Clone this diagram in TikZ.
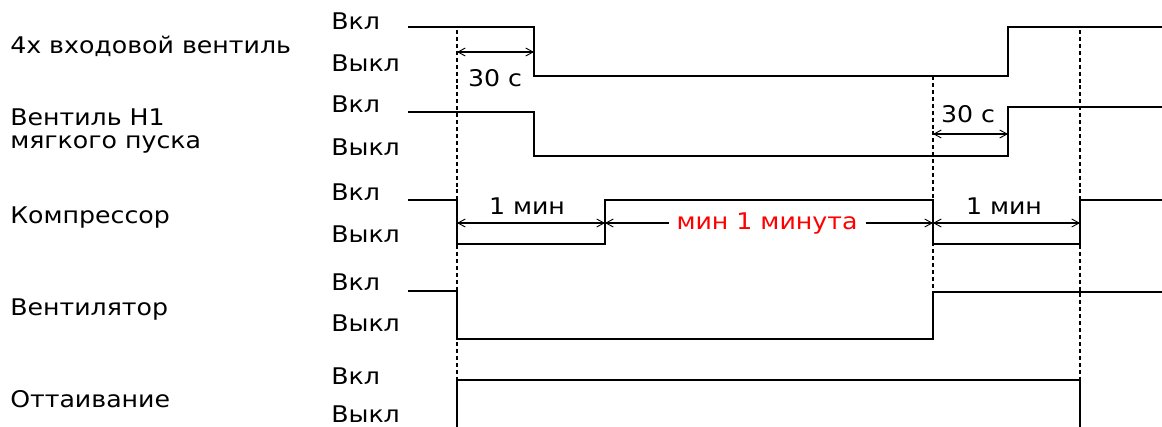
\documentclass[tikz,border=0pt]{standalone}
\usepackage{fontspec}
\setmainfont{DejaVu Sans}[FakeStretch=1.1]
\usetikzlibrary{arrows.meta}
\begin{document}
\begin{tikzpicture}[x=0.75pt,y=-0.75pt,
  sig/.style={line width=1.15pt, line join=miter},
  guide/.style={line width=0.9pt, dash pattern=on 3pt off 2.2pt},
  tipb/.tip={Straight Barb[length=5.5pt,width=6pt,line width=0.7pt]},
  dim/.style={line width=0.8pt, tipb-tipb},
  txt/.style={font=\fontsize{17.2}{19}\selectfont, inner sep=0pt},
  lvl/.style={txt, anchor=base west},
  sname/.style={txt, anchor=base west, align=left},
  dlab/.style={txt, anchor=center},
  redlab/.style={txt, anchor=center, text=red, fill=white, inner xsep=6pt, inner ysep=2pt}]
\useasboundingbox (0,0) rectangle (1162,426);

% signal names
\node[sname] (n1) at (10,53) {4x входовой вентиль};
\node[sname] (n2a) at (10,125) {Вентиль H1};
\node[sname] (n2b) at (10,148) {мягкого пуска};
\node[sname] (n3) at (10,223) {Компрессор};
\node[sname] (n4) at (10,315) {Вентилятор};
\node[sname] (n5) at (10,407) {Оттаивание};

% levels
\node[lvl] (on1) at (331,29) {Вкл};
\node[lvl] (off1) at (331,71) {Выкл};
\node[lvl] (on2) at (331,112) {Вкл};
\node[lvl] (off2) at (331,155) {Выкл};
\node[lvl] (on3) at (331,200) {Вкл};
\node[lvl] (off3) at (331,242) {Выкл};
\node[lvl] (on4) at (331,290) {Вкл};
\node[lvl] (off4) at (331,331) {Выкл};
\node[lvl] (on5) at (331,384) {Вкл};
\node[lvl] (off5) at (331,422) {Выкл};

% guide lines
\coordinate (gAt) at (457,30);  \coordinate (gAb) at (457,380);
\coordinate (gBt) at (933,76);  \coordinate (gBb) at (933,292);
\coordinate (gCt) at (1080,30); \coordinate (gCb) at (1080,380);
\draw[guide] (gAt) -- (gAb);
\draw[guide] (gBt) -- (gBb);
\draw[guide] (gCt) -- (gCb);

% waveforms
\draw[sig] (408,27) -| (534,76) -| (1008,27) -- (1162,27);
\draw[sig] (408,112) -| (534,156) -| (1008,107) -- (1162,107);
\draw[sig] (408,200) -| (457,244) -| (605,200) -| (933,244) -| (1080,200) -- (1162,200);
\draw[sig] (408,291) -| (457,339) -| (933,292) -- (1162,292);
\draw[sig] (457,428) -- (457,380) -| (1080,428);

% dimension arrows
\coordinate (a1l) at (457,52);  \coordinate (a1r) at (534,52);
\draw[dim] (a1l) -- (a1r);
\node[dlab] (l1) at (495,78) {30 c};

\coordinate (a2l) at (933,134); \coordinate (a2r) at (1008,134);
\draw[dim] (a2l) -- (a2r);
\node[dlab] (l2) at (968,114) {30 c};

\coordinate (a3a) at (457,223); \coordinate (a3b) at (605,223);
\coordinate (a3c) at (933,223); \coordinate (a3d) at (1080,223);
\draw[dim] (a3a) -- (a3b);
\node[dlab] (l3) at (527,206) {1 мин};
\draw[dim] (a3b) -- (a3c);
\node[redlab] (l4) at (767,224) {мин 1 минута};
\draw[dim] (a3c) -- (a3d);
\node[dlab] (l5) at (1004,206) {1 мин};
\end{tikzpicture}
\end{document}
